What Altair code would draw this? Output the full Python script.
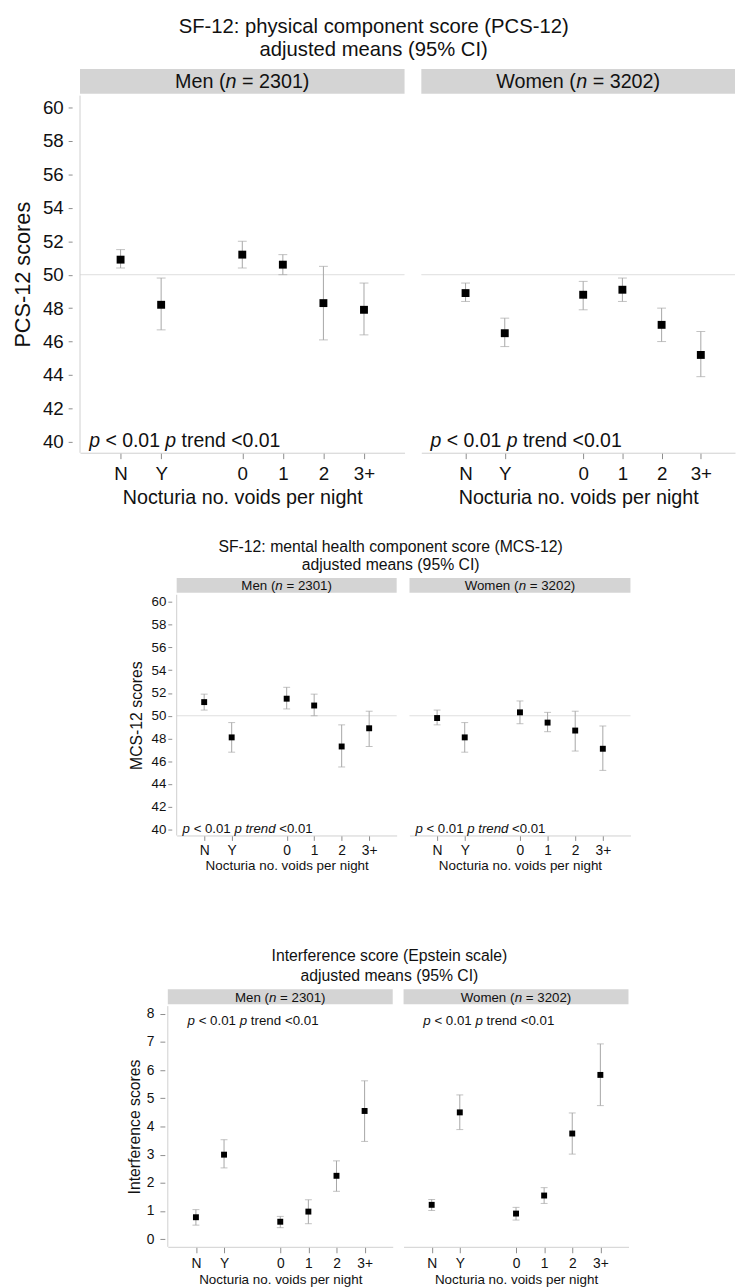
import altair as alt
import pandas as pd

# ---------------- data ----------------
cats = ["N", "Y", "0", "1", "2", "3+"]
x_slots = ["N", "Y", "", "0", "1", "2", "3+"]

pcs_men = [50.9, 48.2, 51.2, 50.6, 48.3, 47.9]
pcs_men_lo = [50.4, 46.7, 50.4, 50.0, 46.1, 46.4]
pcs_men_hi = [51.5, 49.8, 52.0, 51.2, 50.5, 49.5]
pcs_women = [48.9, 46.5, 48.8, 49.1, 47.0, 45.2]
pcs_women_lo = [48.4, 45.7, 47.9, 48.4, 46.0, 43.9]
pcs_women_hi = [49.5, 47.4, 49.6, 49.8, 48.0, 46.6]

mcs_men = [51.2, 48.1, 51.5, 50.9, 47.3, 48.9]
mcs_men_lo = [50.5, 46.8, 50.6, 50.0, 45.5, 47.3]
mcs_men_hi = [51.9, 49.4, 52.5, 51.9, 49.2, 50.4]
mcs_women = [49.8, 48.1, 50.3, 49.4, 48.7, 47.1]
mcs_women_lo = [49.2, 46.8, 49.3, 48.6, 46.9, 45.2]
mcs_women_hi = [50.5, 49.4, 51.3, 50.3, 50.4, 49.1]

int_men = [0.78, 3.0, 0.62, 0.98, 2.25, 4.55]
int_men_lo = [0.5, 2.53, 0.41, 0.55, 1.7, 3.47]
int_men_hi = [1.05, 3.53, 0.81, 1.4, 2.78, 5.62]
int_women = [1.22, 4.5, 0.91, 1.55, 3.75, 5.83]
int_women_lo = [1.02, 3.89, 0.68, 1.27, 3.02, 4.74]
int_women_hi = [1.41, 5.12, 1.13, 1.83, 4.48, 6.93]

titles = {
    "pcs": ["SF-12: physical component score (PCS-12)", "adjusted means (95% CI)"],
    "mcs": ["SF-12: mental health component score (MCS-12)", "adjusted means (95% CI)"],
    "int": ["Interference score (Epstein scale)", "adjusted means (95% CI)"],
}
y_titles = {"pcs": "PCS-12 scores", "mcs": "MCS-12 scores", "int": "Interference scores"}
x_title = "Nocturia no. voids per night"
men_label = ("Men (", "n", " = 2301)")
women_label = ("Women (", "n", " = 3202)")

# ---------------- styling ----------------
FONT = "Liberation Sans"
TXT = "#111111"
STRIP = "#d4d4d4"
EB = "#a6a6a6"
AXC = "#cfcfcf"
GRID = "#dedede"
TICKC = "#8c8c8c"

AW = {' ': 278, '(': 333, ')': 333, '=': 584, '<': 584, '.': 278, '%': 889, '+': 584,
      '-': 333, ':': 278, 'M': 833, 'W': 944, 'e': 556, 'n': 556, 'o': 556, 'm': 833,
      'p': 556, 't': 278, 'r': 333, 'd': 556}


def tw(s, fs):
    return sum(AW.get(c, 556) for c in s) * fs / 1000.0


one = pd.DataFrame({"k": [0]})


def run_layers(tokens, x0, y, fs):
    layers = []
    x = x0
    for text, italic in tokens:
        core = text.strip()
        lead = text[: len(text) - len(text.lstrip())]
        x += tw(lead, fs)
        if core:
            layers.append(
                alt.Chart(one).mark_text(
                    align="left", baseline="alphabetic", font=FONT, fontSize=fs,
                    fontStyle="italic" if italic else "normal", color=TXT
                ).encode(x=alt.value(x), y=alt.value(y), text=alt.value(core))
            )
        x += tw(text.lstrip(), fs)
    return layers


S = {
    "pcs": dict(height=362, ydom=[39.35, 60.71], yvals=list(range(40, 61, 2)),
                ytfs=22, ylfs=19, xlfs=19, xtfs=20, yoff=8, ytick=4, ylpad=5, ytpad=8,
                xtick=6, xlpad=6, xtpad=4, msize=64, cap=9, strip_h=25, strip_gap=2,
                strip_fs=20, pfs=19.7, px=9.3, py=356, trend_it=False, ref=True),
    "mcs": dict(height=244, ydom=[39.48, 60.63], yvals=list(range(40, 61, 2)),
                ytfs=16, ylfs=13.5, xlfs=14, xtfs=13.6, yoff=5, ytick=4, ylpad=2, ytpad=7,
                xtick=5, xlpad=3.5, xtpad=1, msize=36, cap=7, strip_h=15, strip_gap=2,
                strip_fs=13.5, pfs=13.4, px=6, py=241, trend_it=True, ref=True),
    "int": dict(height=244, ydom=[-0.27, 8.27], yvals=list(range(0, 9)),
                ytfs=16, ylfs=14, xlfs=14, xtfs=13.6, yoff=3, ytick=5, ylpad=6, ytpad=3.4,
                xtick=6, xlpad=3.5, xtpad=3, msize=36, cap=7, strip_h=15, strip_gap=2,
                strip_fs=13.5, pfs=13.5, px=20, py=19, trend_it=False, ref=False),
}


def panel(sec, label, vals, lo, hi, width, pad, align, show_y):
    P = S[sec]
    h = P["height"]
    df = pd.DataFrame({"cat": cats, "mean": vals, "lo": lo, "hi": hi})
    xs = alt.Scale(domain=x_slots, type="point", padding=pad, align=align)
    ys = alt.Scale(domain=P["ydom"], nice=False, zero=False)
    xaxis = alt.Axis(values=cats, title=x_title, labelFont=FONT, titleFont=FONT,
                     labelFontSize=P["xlfs"], titleFontSize=P["xtfs"], titleFontWeight="normal",
                     labelColor=TXT, titleColor=TXT, domainColor=AXC, tickColor=TICKC,
                     tickSize=P["xtick"], labelPadding=P["xlpad"], titlePadding=P["xtpad"],
                     labelAngle=0, grid=False)
    if show_y:
        yaxis = alt.Axis(values=P["yvals"], title=y_titles[sec], labelFont=FONT, titleFont=FONT,
                         labelFontSize=P["ylfs"], titleFontSize=P["ytfs"], titleFontWeight="normal",
                         labelColor=TXT, titleColor=TXT, domain=False, tickColor=TICKC,
                         tickSize=P["ytick"], offset=P["yoff"], labelPadding=P["ylpad"],
                         titlePadding=P["ytpad"], grid=False)
    else:
        yaxis = None
    ytitle = y_titles[sec] if show_y else None

    def X():
        return alt.X("cat:N", scale=xs, axis=xaxis, title=x_title)

    def Y(f):
        return alt.Y(f, scale=ys, axis=yaxis, title=ytitle)

    layers = []
    # strip
    layers.append(alt.Chart(one).mark_rect(color=STRIP).encode(
        x=alt.value(0), x2=alt.value(width),
        y=alt.value(-P["strip_h"] - P["strip_gap"]), y2=alt.value(-P["strip_gap"])))
    a, b, c = label
    fs = P["strip_fs"]
    total = tw(a + b + c, fs)
    x0 = width / 2 - total / 2
    ybase = -P["strip_gap"] - P["strip_h"] / 2 + fs * 0.36
    layers += run_layers([(a, False), (b, True), (c, False)], x0, ybase, fs)
    if P["ref"]:
        layers.append(alt.Chart(one).mark_rule(color=GRID, strokeWidth=1).encode(
            y=alt.Y(datum=50, scale=ys, axis=yaxis, title=ytitle)))
    if show_y:
        layers.append(alt.Chart(one).mark_rule(color=AXC, strokeWidth=1).encode(
            x=alt.value(0), y=alt.value(0), y2=alt.value(h)))
    base = alt.Chart(df)
    layers.append(base.mark_rule(color=EB, strokeWidth=1).encode(x=X(), y=Y("lo:Q"), y2="hi:Q"))
    layers.append(base.mark_tick(orient="horizontal", size=P["cap"], thickness=1, color=EB)
                  .encode(x=X(), y=Y("lo:Q")))
    layers.append(base.mark_tick(orient="horizontal", size=P["cap"], thickness=1, color=EB)
                  .encode(x=X(), y=Y("hi:Q")))
    layers.append(base.mark_point(shape="square", filled=True, size=P["msize"], color="black",
                                  opacity=1).encode(x=X(), y=Y("mean:Q")))
    pf = P["pfs"]
    tokens = [("p", True), (" < 0.01", False), (" p", True),
              (" trend", P["trend_it"]), (" <0.01", False)]
    layers += run_layers(tokens, P["px"], P["py"], pf)
    return alt.layer(*layers).properties(width=width, height=h)


def spacer(w):
    return alt.Chart(one).mark_point(opacity=0).encode(
        x=alt.value(0), y=alt.value(0)).properties(width=w, height=5)


sec1 = alt.hconcat(
    panel("pcs", men_label, pcs_men, pcs_men_lo, pcs_men_hi, 329, 1.25, 0.5, True),
    panel("pcs", women_label, pcs_women, pcs_women_lo, pcs_women_hi, 318, 1.108, 0.564, False),
    spacing=15,
    title=alt.TitleParams(titles["pcs"], fontSize=20.5, font=FONT, fontWeight="normal",
                          color=TXT, anchor="middle", lineHeight=23, offset=9),
)

sec2 = alt.hconcat(
    spacer(37),
    panel("mcs", men_label, mcs_men, mcs_men_lo, mcs_men_hi, 223, 1.2, 0.5, True),
    panel("mcs", women_label, mcs_women, mcs_women_lo, mcs_women_hi, 224, 1.24, 0.5, False),
    spacing=11,
    title=alt.TitleParams(titles["mcs"], fontSize=16, font=FONT, fontWeight="normal",
                          color=TXT, anchor="middle", lineHeight=18, offset=5, dx=37),
)

sec3 = alt.hconcat(
    spacer(36),
    panel("int", men_label, int_men, int_men_lo, int_men_hi, 228, 1.25, 0.5, True),
    panel("int", women_label, int_women, int_women_lo, int_women_hi, 228, 1.24, 0.5, False),
    spacing=11,
    title=alt.TitleParams(titles["int"], fontSize=16, font=FONT, fontWeight="normal",
                          color=TXT, anchor="middle", lineHeight=21, offset=5, dx=37),
)

chart = alt.vconcat(
    sec1,
    alt.vconcat(sec2, sec3, spacing=76),
    spacing=33,
).properties(
    padding={"left": 3, "top": 0, "right": 0, "bottom": 0}
).configure(font=FONT).configure_view(stroke=None)

chart.save("out.html", embed_options={"renderer": "svg", "actions": False})
